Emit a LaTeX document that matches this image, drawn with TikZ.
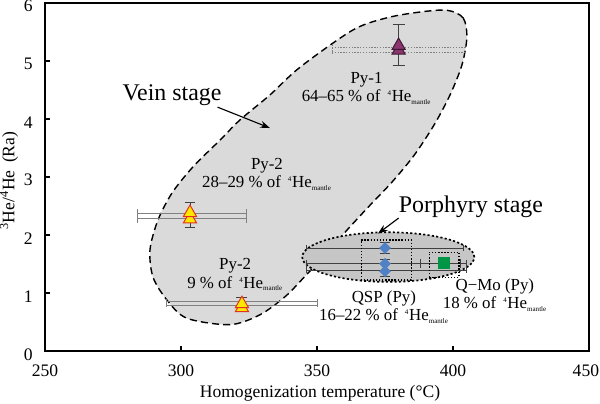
\documentclass[tikz,border=0pt]{standalone}
\usepackage{fontspec}
\setmainfont{Liberation Serif}
\usetikzlibrary{shapes.geometric, positioning, arrows.meta}
\definecolor{veingray}{RGB}{218,218,218}
\definecolor{porgray}{RGB}{198,198,198}
\definecolor{pyone}{RGB}{140,52,110}
\definecolor{pyonedark}{RGB}{60,25,50}
\definecolor{pytwo}{RGB}{255,232,0}
\definecolor{pyred}{RGB}{225,50,30}
\definecolor{qspblue}{RGB}{79,129,196}
\definecolor{qmogreen}{RGB}{0,150,70}
\tikzset{
    frame/.style = {draw, line width=1.4pt},
    vein/.style = {draw, fill=veingray, line width=1pt, dash pattern=on 5pt off 3pt},
    porph/.style = {draw, fill=porgray, line width=1.2pt, dash pattern=on 1.5pt off 1.6pt},
    err/.style = {draw=black!75, line width=0.5pt},
    dbl/.style = {draw=black!50, line width=0.6pt},
    dotline/.style = {draw=black!50, line width=0.5pt, dash pattern=on 1pt off 1pt},
    box/.style = {draw, line width=0.8pt, dash pattern=on 1pt off 1.2pt},
    tri/.style = {regular polygon, regular polygon sides=3, minimum size=0.38cm, inner sep=0pt, line width=0.7pt},
    dia/.style = {diamond, minimum width=0.3cm, minimum height=0.3cm, inner sep=0pt, fill=qspblue},
    sq/.style = {rectangle, minimum size=0.3cm, inner sep=0pt, fill=qmogreen},
    lbl/.style = {align=center, font=\fontsize{12}{13}\selectfont, inner sep=0pt},
    stage/.style = {font=\fontsize{17}{20}\selectfont, inner sep=0pt},
    arr/.style = {-{Stealth[length=7pt, width=5pt]}, line width=0.8pt},
    ticklbl/.style = {font=\fontsize{12.5}{14}\selectfont, inner sep=0pt},
}
\newcommand{\Hemantle}{\,\textsuperscript{\tiny 4}He\textsubscript{\tiny mantle}}

\begin{document}
\begin{tikzpicture}[x=0.068cm, y=1.45cm]
    \useasboundingbox (233.46,-0.902) rectangle (454.04,6.047);

    % stage fields
    \draw[vein] plot[smooth cycle] coordinates {
        (397.8,5.87) (403.7,5.74) (405.1,5.41) (403.3,4.93) (398.9,4.41)
        (393.0,3.89) (385.7,3.37) (377.6,2.91) (369.5,2.51) (361.4,2.10)
        (352.9,1.65) (344.9,1.25) (338.2,0.93) (329.0,0.62) (318.0,0.45)
        (302.2,0.56) (294.9,0.87) (289.7,1.27) (288.6,1.74) (291.5,2.25)
        (296.7,2.72) (304.4,3.17) (314.3,3.63) (321.7,3.98) (332.7,4.41)
        (343.8,4.89) (363.2,5.53) (375.7,5.74) (387.9,5.84)};
    \draw[porph] (376.2,1.615) ellipse [x radius=2.15cm, y radius=0.62cm];

    % Py-1
    \draw[dotline] (355.5,5.23) -- (405.1,5.23);
    \draw[dotline] (355.5,5.15) -- (405.1,5.15);
    \draw[dotline] (355.5,5.28) -- (355.5,5.10);
    \draw[err] (380,4.92) -- (380,5.62);
    \draw[err] (377.8,4.92) -- (382.2,4.92);
    \draw[err] (377.8,5.62) -- (382.2,5.62);
    \node[tri, draw=pyonedark, fill=pyone] (py1b) at (380,5.18) {};
    \node[tri, draw=pyonedark, fill=pyone] (py1a) at (380,5.26) {};

    % Py-2, upper
    \draw[dbl] (283.8,2.37) -- (323.9,2.37);
    \draw[dbl] (283.8,2.28) -- (323.9,2.28);
    \draw[dbl] (283.8,2.44) -- (283.8,2.21);
    \draw[dbl] (323.9,2.44) -- (323.9,2.21);
    \draw[err] (303.3,2.13) -- (303.3,2.56);
    \draw[err] (301.3,2.13) -- (305.3,2.13);
    \draw[err] (301.3,2.56) -- (305.3,2.56);
    \node[tri, draw=pyred, fill=pytwo] (py2b) at (303.3,2.27) {};
    \node[tri, draw=pyred, fill=pytwo] (py2a) at (303.3,2.38) {};

    % Py-2, lower
    \draw[dbl] (294.5,0.845) -- (350,0.845);
    \draw[dbl] (294.5,0.79) -- (350,0.79);
    \draw[dbl] (294.5,0.89) -- (294.5,0.75);
    \draw[dbl] (350,0.89) -- (350,0.75);
    \draw[err] (322.4,0.72) -- (322.4,0.92);
    \draw[err] (320.4,0.92) -- (324.4,0.92);
    \node[tri, draw=pyred, fill=pytwo] (py2d) at (322.4,0.74) {};
    \node[tri, draw=pyred, fill=pytwo] (py2c) at (322.4,0.81) {};

    % porphyry stage: QSP and Q-Mo
    \draw[err] (346,1.77) -- (403.7,1.77);
    \draw[err] (346,1.51) -- (405,1.51);
    \draw[err] (346,1.39) -- (405,1.39);
    \draw[err] (346,1.82) -- (346,1.72);
    \draw[err] (403.7,1.82) -- (403.7,1.72);
    \draw[err] (346,1.56) -- (346,1.34);
    \draw[err] (405,1.56) -- (405,1.34);
    \draw[err] (388,1.43) -- (388,1.59);
    \draw[err] (402.6,1.43) -- (402.6,1.59);
    \draw[err] (375,1.68) -- (375,1.87);
    \draw[err] (373,1.68) -- (377,1.68);
    \draw[err] (373,1.87) -- (377,1.87);
    \draw[err] (375,1.29) -- (375,1.58);
    \draw[err] (373,1.29) -- (377,1.29);
    \draw[err] (373,1.58) -- (377,1.58);
    \draw[err] (396.7,1.42) -- (396.7,1.61);
    \draw[err] (394.7,1.61) -- (398.7,1.61);
    \draw[box] (366.2,1.22) rectangle (384.6,1.91);
    \draw[box] (391.2,1.27) rectangle (402.2,1.70);
    \node[dia] (qspa) at (375,1.77) {};
    \node[dia] (qspc) at (375,1.37) {};
    \node[dia] (qspb) at (375,1.50) {};
    \node[sq] (qmo) at (396.7,1.51) {};

    % labels
    \node[stage] (veinlbl) at (296.7,4.41) {Vein stage};
    \coordinate (veintip) at (332.7,3.84);
    \draw[arr] ([xshift=-3pt, yshift=-1pt]veinlbl.south east) -- (veintip);
    \node[stage] (porphlbl) at (406.6,2.48) {Porphyry stage};
    \coordinate (porphtip) at (372.4,2.02);
    \draw[arr] (porphlbl.south west) -- (porphtip);

    \node[lbl] (py1lbl) at (368.2,4.52) {Py-1\\64–65 \% of \Hemantle};
    \node[lbl] (py2uplbl) at (331.6,3.04) {Py-2\\28–29 \% of \Hemantle};
    \node[lbl] (py2lolbl) at (319.9,1.31) {Py-2\\9 \% of \Hemantle};
    \node[lbl] (qsplbl) at (374.6,0.75) {QSP (Py)\\16–22 \% of \Hemantle};
    \node[lbl] (qmolbl) at (415.4,0.96) {Q−Mo (Py)\\18 \% of \Hemantle};

    % axes
    \draw[frame] (250,0) rectangle (450,6);
    \draw[frame] (300,0) -- (300,0.09);
    \draw[frame] (350,0) -- (350,0.09);
    \draw[frame] (400,0) -- (400,0.09);
    \draw[frame] (250,1) -- (252,1);
    \draw[frame] (250,2) -- (252,2);
    \draw[frame] (250,3) -- (252,3);
    \draw[frame] (250,4) -- (252,4);
    \draw[frame] (250,5) -- (252,5);

    \node[ticklbl] (x250) at (250,-0.35) {250};
    \node[ticklbl] (x300) at (300,-0.35) {300};
    \node[ticklbl] (x350) at (350,-0.35) {350};
    \node[ticklbl] (x400) at (400,-0.35) {400};
    \node[ticklbl, anchor=east] (x450) at (453.8,-0.35) {450};
    \node[ticklbl, anchor=east] (y0) at (245.6,-0.06) {0};
    \node[ticklbl, anchor=east] (y1) at (245.6,0.94) {1};
    \node[ticklbl, anchor=east] (y2) at (245.6,1.94) {2};
    \node[ticklbl, anchor=east] (y3) at (245.6,2.94) {3};
    \node[ticklbl, anchor=east] (y4) at (245.6,3.94) {4};
    \node[ticklbl, anchor=east] (y5) at (245.6,4.94) {5};
    \node[ticklbl, anchor=east] (y6) at (245.6,5.94) {6};

    \node[ticklbl] (xlab) at (351.1,-0.73) {Homogenization temperature (\textdegree C)};
    \node[ticklbl, rotate=90] (ylab) at (236.8,2.93) {\textsuperscript{3}He/\textsuperscript{4}He\ \,(Ra)};
\end{tikzpicture}
\end{document}
